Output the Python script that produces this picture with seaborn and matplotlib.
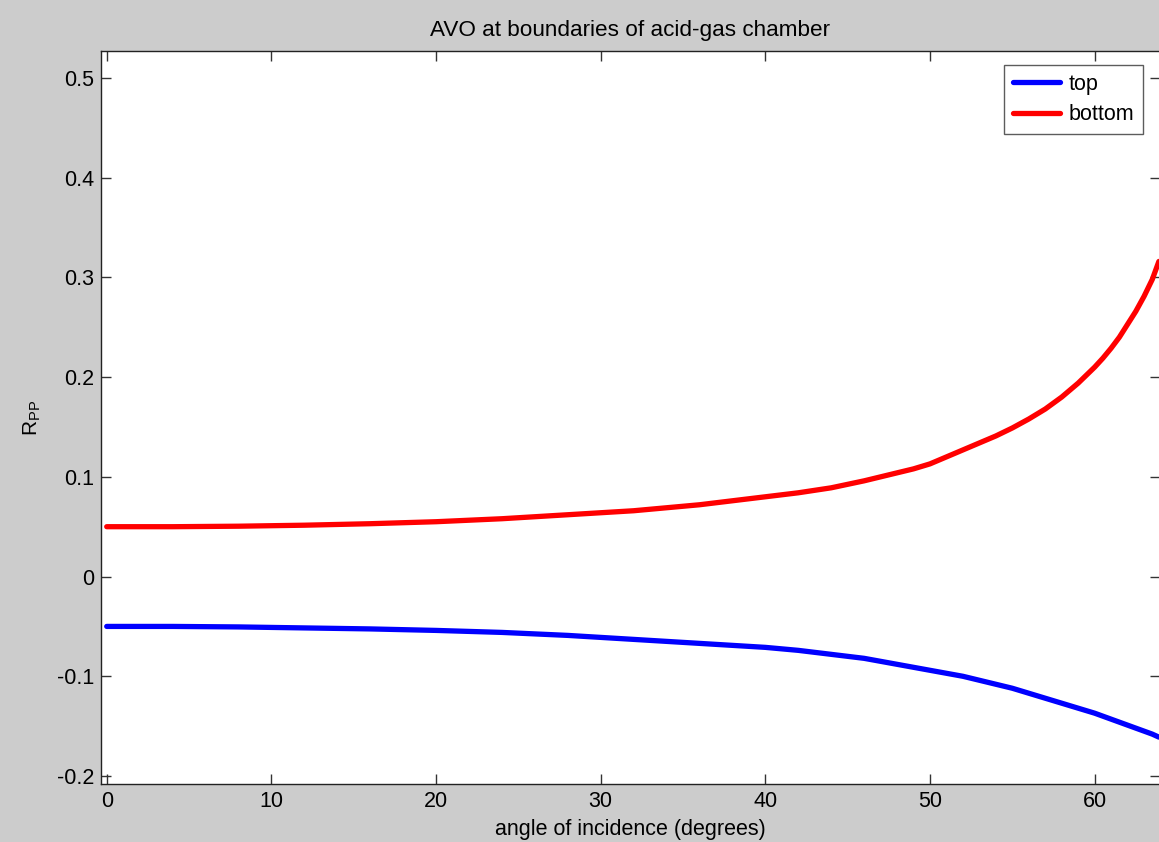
import matplotlib
matplotlib.use("Agg")
import matplotlib.pyplot as plt
import seaborn as sns
import pandas as pd

angle = [0, 4, 8, 12, 16, 20, 24, 28, 32, 36, 40, 42, 44, 46, 48, 49, 50, 51, 52, 53, 54, 55,
         56, 57, 58, 59, 60, 60.5, 61, 61.5, 62, 62.5, 63, 63.5, 63.9]
top = [-0.050, -0.050, -0.0505, -0.0515, -0.0525, -0.054, -0.056, -0.059, -0.063, -0.067,
       -0.071, -0.074, -0.078, -0.082, -0.088, -0.091, -0.094, -0.097, -0.100, -0.104, -0.108,
       -0.112, -0.117, -0.122, -0.127, -0.132, -0.137, -0.140, -0.143, -0.146, -0.149, -0.152,
       -0.155, -0.158, -0.161]
bottom = [0.050, 0.050, 0.0505, 0.0515, 0.053, 0.055, 0.058, 0.062, 0.066, 0.072, 0.080, 0.084,
          0.089, 0.096, 0.104, 0.108, 0.113, 0.120, 0.127, 0.134, 0.141, 0.149, 0.158, 0.168,
          0.180, 0.194, 0.210, 0.219, 0.229, 0.240, 0.253, 0.266, 0.281, 0.298, 0.316]
series_names = ["top", "bottom"]
xticks = [0, 10, 20, 30, 40, 50, 60]
yticks = [-0.2, -0.1, 0, 0.1, 0.2, 0.3, 0.4, 0.5]
ytick_labels = ["-0.2", "-0.1", "0", "0.1", "0.2", "0.3", "0.4", "0.5"]

df = pd.concat([
    pd.DataFrame({"angle": angle, "Rpp": top, "boundary": "top"}),
    pd.DataFrame({"angle": angle, "Rpp": bottom, "boundary": "bottom"}),
])

sns.set_style("white")
plt.rcParams["font.family"] = ["Liberation Sans", "DejaVu Sans"]
plt.rcParams["mathtext.fontset"] = "custom"
plt.rcParams["mathtext.rm"] = "Liberation Sans"
plt.rcParams["mathtext.it"] = "Liberation Sans"
plt.rcParams["text.color"] = "black"
plt.rcParams["axes.labelcolor"] = "black"
plt.rcParams["xtick.color"] = "black"
plt.rcParams["ytick.color"] = "black"

fig = plt.figure(figsize=(11.59, 8.42), dpi=100, facecolor="#cccccc")
ax = fig.add_axes([0.0871, 0.0689, 0.9135, 0.8705])
ax.set_facecolor("white")

sns.lineplot(data=df, x="angle", y="Rpp", hue="boundary", hue_order=series_names,
             palette={"top": "#0000ff", "bottom": "#ff0000"}, linewidth=3.8,
             ax=ax, sort=False, estimator=None)

ax.set_xlim(-0.35, 63.95)
ax.set_ylim(-0.208, 0.527)
ax.set_xticks(xticks)
ax.set_xticklabels([str(t) for t in xticks])
ax.set_yticks(yticks)
ax.set_yticklabels(ytick_labels)
ax.tick_params(direction="in", length=7.5, width=1, color="#333333", labelsize=15.5,
               labelcolor="black", top=True, right=True, bottom=True, left=True, pad=5)
for s in ax.spines.values():
    s.set_color("#222222")
    s.set_linewidth(1)

ax.set_xlabel("angle of incidence (degrees)", fontsize=15.5, labelpad=5)
ax.set_ylabel(r"R$_{\mathrm{PP}}$", fontsize=15, labelpad=10)
ax.set_title("AVO at boundaries of acid-gas chamber", fontsize=16.2, pad=11)

leg = ax.legend(loc="upper right", fontsize=15.5, frameon=True, fancybox=False,
                edgecolor="#333333", handlelength=2.2, borderpad=0.4, borderaxespad=0,
                labelspacing=0.45, handletextpad=0.4, bbox_to_anchor=(0.984, 0.981))
leg.get_frame().set_linewidth(1)
for line in leg.get_lines():
    line.set_linewidth(3.8)

fig.savefig("out.png", dpi=100, facecolor=fig.get_facecolor())
